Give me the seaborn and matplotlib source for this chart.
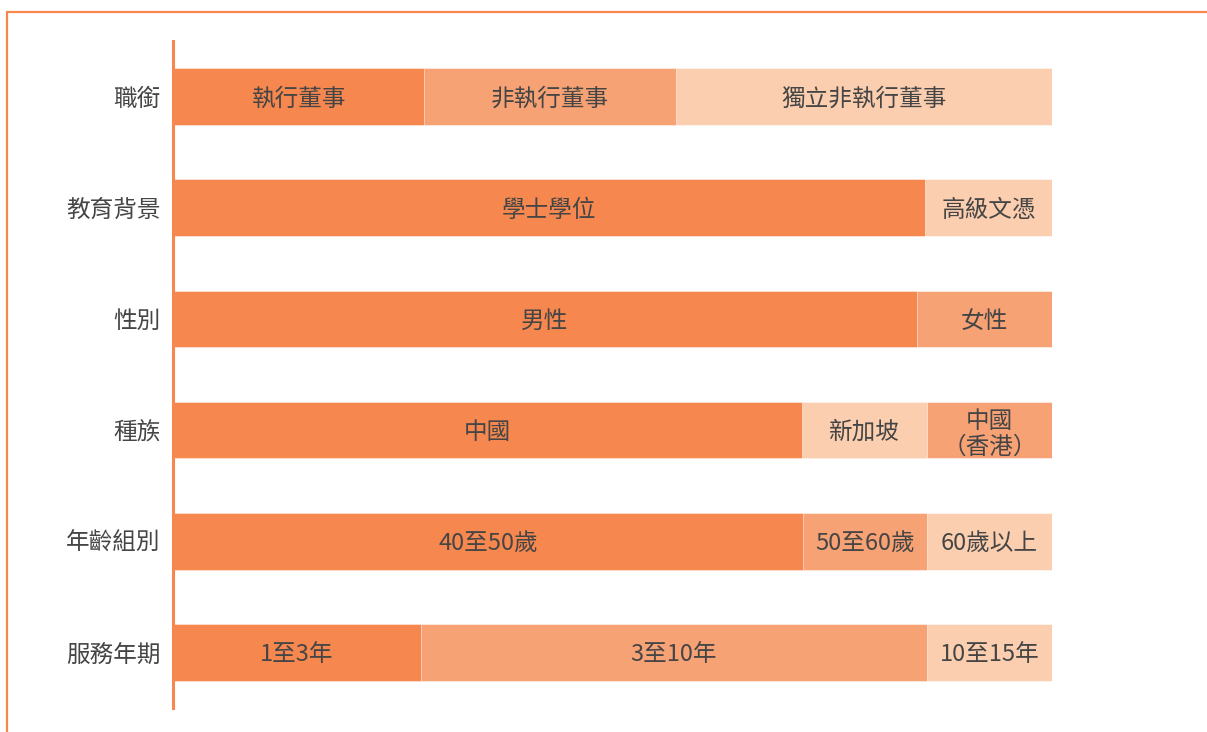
import matplotlib
matplotlib.use("Agg")
import matplotlib.pyplot as plt
from matplotlib.lines import Line2D
import pandas as pd
import seaborn as sns

# row categories (top to bottom)
categories = ["職銜", "教育背景", "性別", "種族", "年齡組別", "服務年期"]

# segment labels and shares (%) per row, left to right
seg_labels = [
    ["執行董事", "非執行董事", "獨立非執行董事"],
    ["學士學位", "高級文憑"],
    ["男性", "女性"],
    ["中國", "新加坡", "中國\n（香港）"],
    ["40至50歲", "50至60歲", "60歲以上"],
    ["1至3年", "3至10年", "10至15年"],
]
seg_values = [
    [28.6, 28.6, 42.8],
    [85.6, 14.4],
    [84.6, 15.4],
    [71.6, 14.2, 14.2],
    [71.7, 14.1, 14.2],
    [28.2, 57.6, 14.2],
]
# shade index per segment: 0 dark, 1 medium, 2 light
seg_shades = [
    [0, 1, 2],
    [0, 2],
    [0, 1],
    [0, 2, 1],
    [0, 1, 2],
    [0, 1, 2],
]

shades = ["#F5874F", "#F7A274", "#FBCEAF"]
accent = "#F5874F"
text_color = "#454545"

sns.set_theme(style="white")
plt.rcParams["font.family"] = ["Noto Sans CJK TC", "DejaVu Sans"]

fig = plt.figure(figsize=(12.07, 7.32), dpi=100)
ax = fig.add_axes([173 / 1207, 24 / 732, (1052 - 173) / 1207, 667 / 732])

# build long table with cumulative ends
rows = []
for cat, labs, vals, shs in zip(categories, seg_labels, seg_values, seg_shades):
    start = 0.0
    for j, (lab, v, s) in enumerate(zip(labs, vals, shs)):
        rows.append(dict(category=cat, layer=j, label=lab, start=start,
                         end=start + v, color=shades[s]))
        start += v
df = pd.DataFrame(rows)

# draw layers from the last segment back to the first so they stack visually
for layer in sorted(df["layer"].unique(), reverse=True):
    sub = df[df["layer"] == layer]
    pal = dict(zip(sub["category"], sub["color"]))
    sns.barplot(data=sub, y="category", x="end", hue="category", order=categories,
                hue_order=list(pal.keys()), palette=pal, orient="h", width=0.51,
                legend=False, ax=ax, edgecolor=(1, 1, 1, 0.6), linewidth=0.6,
                saturation=1)

# segment labels
for _, r in df.iterrows():
    yi = categories.index(r["category"])
    ax.text((r["start"] + r["end"]) / 2, yi, r["label"], ha="center",
            va="center_baseline", fontsize=17, color=text_color,
            fontweight="light", linespacing=1.2)

ax.set_xlim(0, 100)
ax.set_ylim(5.5, -0.5)
ax.set_xlabel("")
ax.set_ylabel("")
ax.set_xticks([])
for side in ["top", "right", "bottom"]:
    ax.spines[side].set_visible(False)
ax.spines["left"].set_color(accent)
ax.spines["left"].set_linewidth(2.2)
ax.tick_params(axis="y", length=0, pad=9)
for t in ax.get_yticklabels():
    t.set_fontsize(17)
    t.set_color(text_color)
    t.set_fontweight("light")

# outer frame lines (top and left)
fig.add_artist(Line2D([7 / 1207, 1], [1 - 12 / 732, 1 - 12 / 732],
                      transform=fig.transFigure, color=accent, lw=1.6))
fig.add_artist(Line2D([7 / 1207, 7 / 1207], [0, 1 - 12 / 732],
                      transform=fig.transFigure, color=accent, lw=1.6))

fig.savefig("out.png", dpi=100, facecolor="white")
